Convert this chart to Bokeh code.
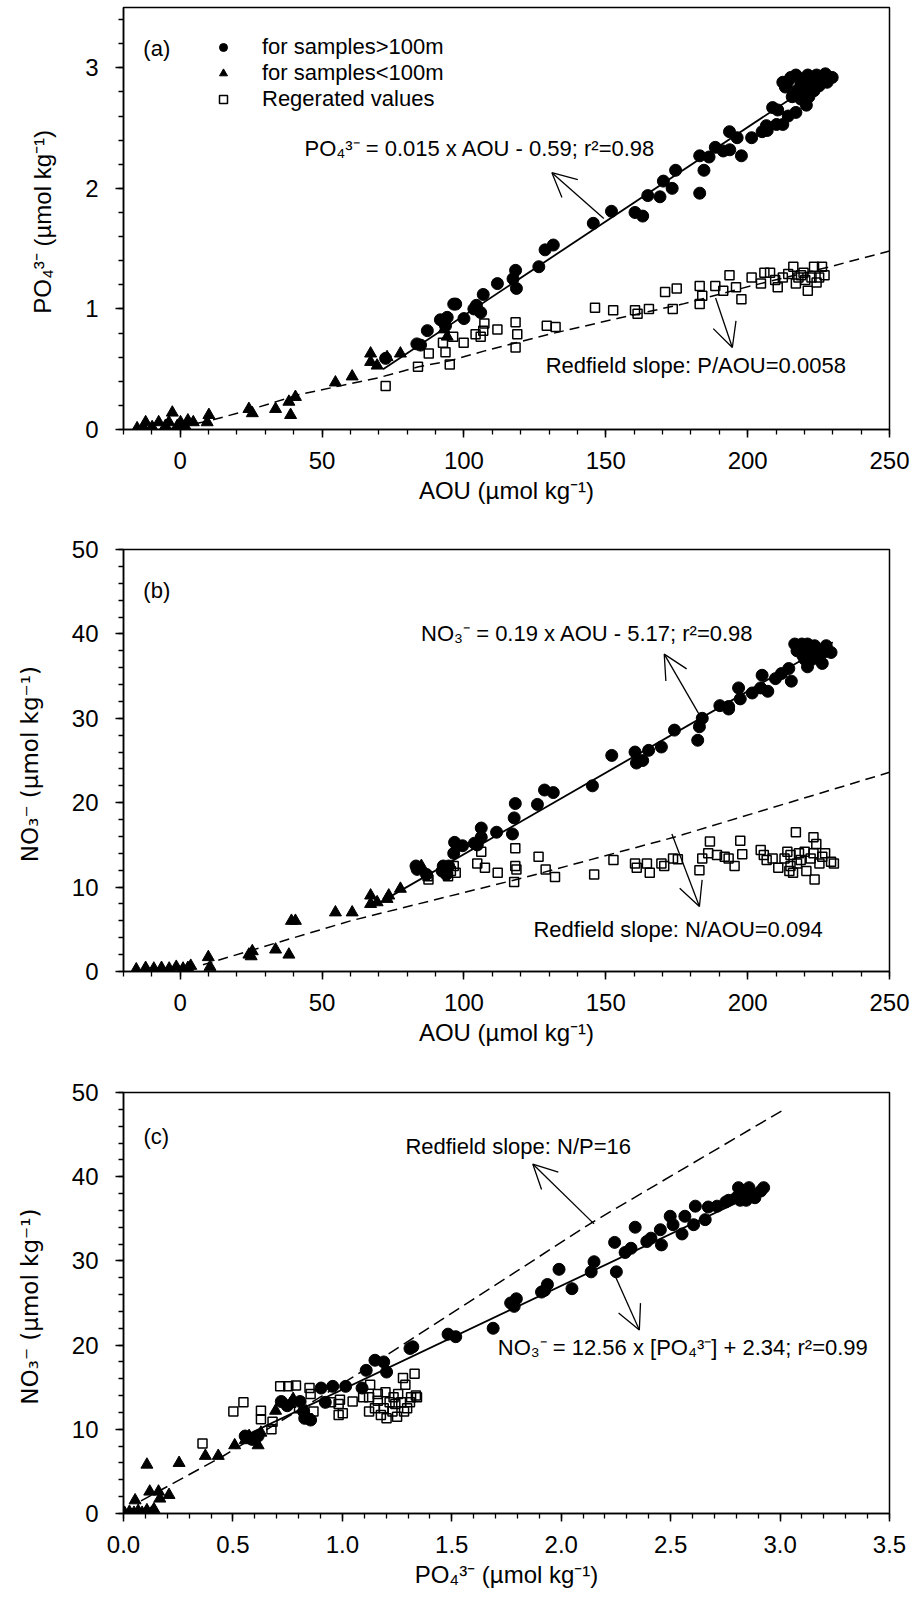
from bokeh.plotting import figure
from bokeh.models import (Range1d, FixedTicker, Arrow, OpenHead, Label, Legend,
                          LegendItem, NumeralTickFormatter)
from bokeh.layouts import column
from bokeh.embed import file_html
from bokeh.resources import INLINE

FONT = "Liberation Sans"

# ---------------- Panel (a): PO4 vs AOU ----------------
a_deep_aou = [72.4, 83.4, 84.7, 87.1, 91.7, 92.6, 93.5, 94.1, 96.4, 97.1, 100.0, 103.5, 104.4,
              105.9, 106.8, 111.8, 117.3, 118.2, 118.5, 126.4, 128.6, 131.5, 145.6, 152.0,
              160.3, 163.0, 164.8, 169.1, 170.3, 173.4, 174.6, 183.1, 183.1, 184.6, 186.4,
              188.6, 191.4, 193.7, 193.6, 196.3, 197.8, 201.4, 205.1, 206.9, 206.6, 210.2,
              208.8, 210.6, 212.4, 214.3, 217.0, 215.7, 220.7,
              212.4, 214.3, 217.0, 218.8, 219.7, 221.2, 222.5, 223.4, 224.3, 225.2, 226.2,
              227.4, 228.9, 229.8, 217.9, 220.7, 218.8, 221.6, 216.1, 221.6, 223.4, 213.3,
              215.2, 226.7, 228.0]
a_deep_po4 = [0.59, 0.71, 0.70, 0.82, 0.91, 0.90, 0.86, 0.93, 1.04, 1.04, 0.92, 1.00, 1.03,
              0.97, 1.12, 1.21, 1.25, 1.32, 1.17, 1.35, 1.49, 1.53, 1.71, 1.81,
              1.80, 1.77, 1.94, 1.93, 2.06, 2.00, 2.15, 1.96, 2.27, 2.15, 2.26,
              2.34, 2.31, 2.32, 2.47, 2.42, 2.27, 2.42, 2.47, 2.48, 2.52, 2.53,
              2.67, 2.65, 2.53, 2.60, 2.63, 2.76, 2.69,
              2.88, 2.89, 2.94, 2.87, 2.91, 2.94, 2.84, 2.89, 2.94, 2.85, 2.89,
              2.95, 2.92, 2.92, 2.82, 2.78, 2.74, 2.76, 2.80, 2.88, 2.81, 2.84,
              2.92, 2.93, 2.88]
a_shallow_aou = [-15.2, -13.0, -12.2, -9.9, -7.6, -5.2, -4.0, -2.8, -1.0, 0.1, 1.0, 1.9, 2.7,
                 4.6, 9.5, 10.1, 24.2, 25.4, 33.6, 38.3, 38.9, 40.6, 54.7, 60.6, 67.1, 67.1,
                 69.4, 72.9, 77.6, 93.0, 94.1]
a_shallow_po4 = [0.01, 0.02, 0.06, 0.02, 0.06, 0.03, 0.06, 0.14, 0.03, 0.06, 0.01, 0.02, 0.075,
                 0.06, 0.06, 0.12, 0.17, 0.135, 0.17, 0.23, 0.12, 0.27, 0.39, 0.44, 0.63, 0.56,
                 0.53, 0.60, 0.63, 0.83, 0.77]
a_regen_aou = [72.4, 83.8, 87.6, 92.6, 93.5, 95.0, 96.2, 99.9, 104.1, 105.9, 106.8, 107.2,
               111.8, 118.2, 118.8, 118.2, 129.2, 132.3, 146.2, 152.6, 160.3, 161.2, 165.2,
               173.6, 170.9, 175.0, 183.1, 184.0, 183.1, 188.6, 191.4, 193.6, 195.9, 197.8,
               201.4, 204.7, 205.9, 207.9, 209.7, 210.6, 212.4, 214.3, 216.1, 217.0, 218.8,
               219.7, 221.2, 222.5, 223.4, 225.2, 226.2, 227.1, 220.3, 217.9, 224.3]
a_regen_po4 = [0.36, 0.52, 0.63, 0.72, 0.64, 0.54, 0.77, 0.72, 0.79, 0.77, 0.82, 0.88,
               0.83, 0.89, 0.79, 0.68, 0.86, 0.85, 1.01, 0.99, 0.99, 0.96, 1.00,
               1.00, 1.14, 1.17, 1.19, 1.11, 1.04, 1.19, 1.15, 1.28, 1.18, 1.08,
               1.26, 1.21, 1.30, 1.30, 1.24, 1.18, 1.26, 1.29, 1.35, 1.21, 1.28,
               1.30, 1.15, 1.26, 1.35, 1.26, 1.35, 1.28, 1.24, 1.26, 1.22]
a_fit_aou = [71.5, 218.8]
a_fit_po4 = [0.50, 2.80]
a_redfield_aou = [-5, 10, 24, 42, 54, 70, 84, 95, 107, 130, 154, 177, 201, 229, 250]
a_redfield_po4 = [0.0, 0.07, 0.16, 0.29, 0.35, 0.43, 0.52, 0.57, 0.65, 0.79, 0.92, 1.04, 1.19, 1.35, 1.48]

# ---------------- Panel (b): NO3 vs AOU ----------------
b_deep_aou = [83.1, 83.5, 86.8, 92.3, 92.7, 93.8, 94.6, 96.4, 96.7, 99.5, 103.7, 104.7, 106.1,
              106.1, 111.5, 117.1, 117.7, 118.1, 125.9, 128.4, 131.5, 145.3, 152.1, 160.3,
              160.8, 163.0, 165.1, 169.6, 174.2, 182.4, 183.0, 184.0, 190.2, 193.3, 196.8,
              197.4, 193.3, 201.6, 204.6, 205.1, 207.1, 209.8, 211.9, 214.5, 215.4, 217.4,
              220.1, 221.1, 222.2, 223.6, 225.3, 227.7, 229.4, 226.3, 221.1, 219.1, 224.2,
              222.8, 216.6, 219.5, 227.3]
b_deep_no3 = [12.5, 12.1, 11.5, 11.9, 12.5, 11.5, 12.5, 14.0, 15.3, 14.9, 15.2, 15.0, 15.9,
              17.0, 16.5, 16.3, 18.2, 19.9, 19.8, 21.5, 21.2, 22.0, 25.6, 26.0,
              24.7, 25.0, 26.2, 26.6, 28.6, 27.4, 29.0, 30.0, 31.5, 31.4, 33.6,
              32.3, 31.1, 33.0, 33.6, 35.1, 33.2, 34.7, 35.3, 35.9, 34.4, 38.0,
              37.0, 36.1, 38.0, 38.6, 37.8, 38.6, 37.8, 36.5, 38.8, 38.8, 37.2,
              37.0, 38.8, 37.4, 37.9]
b_shallow_aou = [-15.5, -12.2, -9.3, -6.6, -3.9, -1.4, 1.0, 2.7, 3.7, 9.9, 10.5, 24.2, 25.4,
                 25.0, 33.6, 38.3, 39.2, 40.6, 54.7, 60.6, 67.1, 67.1, 69.4, 72.9, 73.5, 77.6, 85.0]
b_shallow_no3 = [0.25, 0.42, 0.34, 0.42, 0.34, 0.55, 0.34, 0.42, 0.67, 1.7, 0.55, 2.0, 2.4,
                 1.8, 2.6, 2.0, 6.0, 6.0, 7.0, 7.0, 9.0, 8.0, 8.2, 8.6, 9.0, 9.8, 12.5]
b_regen_aou = [95.4, 96.4, 94.4, 97.1, 87.2, 87.5, 106.1, 104.7, 107.4, 111.9, 118.1, 118.1,
               117.7, 118.5, 126.3, 128.8, 132.1, 145.9, 152.7, 160.3, 160.9, 164.5, 165.5,
               169.6, 170.6, 173.7, 175.4, 183.0, 184.0, 186.1, 186.7, 189.2, 191.9, 193.3,
               195.4, 197.4, 198.1, 204.6, 205.7, 206.7, 208.8, 210.8, 213.0, 215.1, 216.0,
               217.0, 217.4, 218.7, 220.1, 220.7, 222.2, 223.2, 223.2, 224.2, 223.6, 225.3,
               226.3, 227.3, 229.4, 230.4, 218.1, 215.1, 214.0, 214.7]
b_regen_no3 = [11.9, 12.5, 11.3, 11.7, 11.3, 10.9, 14.2, 12.8, 12.3, 11.7, 14.6, 12.5,
               10.6, 12.1, 13.6, 12.1, 11.2, 11.5, 13.2, 12.8, 12.3, 12.8, 11.7,
               12.8, 12.5, 13.4, 13.3, 12.0, 13.4, 14.0, 15.4, 13.8, 13.6, 13.4,
               12.5, 15.5, 13.9, 14.4, 13.8, 13.2, 13.4, 12.3, 13.4, 13.8, 11.7,
               16.5, 12.8, 13.2, 14.2, 11.9, 13.4, 14.0, 15.9, 15.1, 10.9, 12.8,
               13.6, 14.0, 13.0, 12.8, 14.0, 12.5, 14.2, 11.9]
b_fit_aou = [70, 230]
b_fit_no3 = [8.1, 39.0]
b_redfield_aou = [8, 60, 122, 174, 250]
b_redfield_no3 = [0.8, 6.0, 11.2, 15.9, 23.6]

# ---------------- Panel (c): NO3 vs PO4 ----------------
c_deep_po4 = [0.556, 0.588, 0.615, 0.721, 0.748, 0.807, 0.823, 0.828, 0.855, 0.903, 0.922,
              0.956, 1.015, 1.090, 1.109, 1.149, 1.189, 1.202, 1.309, 1.322, 1.483, 1.518,
              1.689, 1.769, 1.785, 1.795, 1.910, 1.937, 1.924, 1.990, 2.049, 2.137, 2.150,
              2.244, 2.252, 2.292, 2.319, 2.338, 2.391, 2.410, 2.453, 2.458, 2.498, 2.511,
              2.552, 2.565, 2.605, 2.613, 2.658, 2.672, 2.712, 2.765, 2.800, 2.810, 2.832,
              2.858, 2.885, 2.912, 2.925, 2.818, 2.872, 2.845, 2.752]
c_deep_no3 = [9.2, 8.8, 9.2, 13.3, 12.8, 13.3, 12.1, 11.3, 11.1, 14.9, 13.2,
              15.1, 15.1, 14.9, 17.0, 18.2, 18.0, 16.8, 19.6, 19.8, 21.3, 21.0,
              22.0, 25.0, 24.6, 25.5, 26.3, 27.2, 26.5, 29.0, 26.7, 28.7, 29.9,
              32.2, 28.7, 31.0, 31.5, 34.0, 32.3, 32.7, 33.7, 31.9, 35.3, 34.3,
              33.2, 35.3, 34.3, 36.5, 34.9, 36.4, 36.5, 37.2, 37.5, 38.7, 38.1,
              38.7, 37.5, 38.3, 38.7, 37.2, 37.9, 37.2, 37.0]
c_shallow_po4 = [0.005, 0.027, 0.048, 0.067, 0.085, 0.107, 0.128, 0.139, 0.053, 0.107, 0.12,
                 0.16, 0.166, 0.208, 0.254, 0.374, 0.433, 0.508, 0.556, 0.574, 0.615, 0.628,
                 0.695, 0.761, 0.775]
c_shallow_no3 = [0.08, 0.2, 0.08, 0.3, 0.08, 0.38, 0.08, 0.5, 1.56, 5.8, 2.6,
                 2.6, 1.77, 2.2, 6.0, 6.84, 6.84, 8.1, 8.7, 9.2, 8.1, 9.6,
                 12.2, 13.0, 13.6]
c_regen_po4 = [0.361, 0.502, 0.548, 0.628, 0.628, 0.676, 0.681, 0.716, 0.753, 0.788, 0.802,
               0.842, 0.850, 0.855, 0.868, 0.948, 0.983, 0.983, 1.002, 0.989, 1.047, 1.095,
               1.122, 1.127, 1.149, 1.162, 1.176, 1.189, 1.197, 1.202, 1.216, 1.229, 1.234,
               1.250, 1.255, 1.269, 1.277, 1.282, 1.288, 1.296, 1.309, 1.314, 1.330, 1.336,
               1.341, 1.162, 1.242, 1.122]
c_regen_no3 = [8.3, 12.1, 13.2, 12.2, 11.2, 10.0, 10.9, 15.1, 15.1, 15.2, 12.5,
               11.3, 14.9, 14.2, 12.1, 13.2, 13.0, 11.7, 11.9, 13.5, 13.3, 13.8,
               13.8, 15.3, 12.5, 13.4, 11.7, 12.5, 14.4, 11.3, 13.2, 12.1, 13.8,
               11.5, 14.2, 13.2, 16.1, 12.1, 15.3, 12.5, 13.2, 13.8, 16.6, 14.0,
               13.8, 14.2, 13.0, 12.1]
c_fit_po4 = [0.56, 2.93]
c_fit_no3 = [9.3, 38.5]
c_redfield_po4 = [0.08, 0.454, 1.042, 2.137, 3.006]
c_redfield_no3 = [1.5, 6.8, 16.1, 34.5, 47.8]

aou_major = [0, 50, 100, 150, 200, 250]
aou_minor = list(range(-20, 251, 10))
no3_major = [0, 10, 20, 30, 40, 50]
no3_minor = list(range(0, 51, 2))
po4_major_a = [0, 1, 2, 3]
po4_minor_a = [round(0.2 * i, 1) for i in range(0, 18)]
po4_major_c = [0.0, 0.5, 1.0, 1.5, 2.0, 2.5, 3.0, 3.5]
po4_minor_c = [round(0.1 * i, 1) for i in range(0, 36)]


def style_axis(ax, major, minor, side):
    ax.ticker = FixedTicker(ticks=major, minor_ticks=minor)
    ax.axis_line_width = 1.5
    ax.axis_line_color = "black"
    ax.major_tick_line_width = 1.5
    ax.minor_tick_line_width = 1.3
    ax.major_tick_line_color = "black"
    ax.minor_tick_line_color = "black"
    ax.major_tick_in = 0
    ax.major_tick_out = 8
    ax.minor_tick_in = 0
    ax.minor_tick_out = 5
    ax.major_label_text_font = FONT
    ax.major_label_text_font_size = "24px"
    ax.major_label_text_color = "black"
    ax.axis_label_text_font = FONT
    ax.axis_label_text_font_size = "24px"
    ax.axis_label_text_font_style = "normal"
    ax.axis_label_text_color = "black"
    if side == "bottom":
        ax.major_label_standoff = 14
        ax.axis_label_standoff = 5
    else:
        ax.major_label_standoff = 17
        ax.axis_label_standoff = 26


def make_fig(xr, yr, top, frame_h, bottom):
    p = figure(width=917, height=top + frame_h + bottom,
               x_range=Range1d(*xr), y_range=Range1d(*yr),
               output_backend="svg", toolbar_location=None,
               min_border_left=123, min_border_right=28,
               min_border_top=top, min_border_bottom=bottom)
    p.xgrid.visible = False
    p.ygrid.visible = False
    p.outline_line_color = "black"
    p.outline_line_width = 1.5
    p.outline_line_alpha = 1.0
    p.background_fill_color = "white"
    p.border_fill_color = "white"
    return p


def add_text(p, x, y, text, size="22px"):
    p.add_layout(Label(x=x, y=y, text=text, text_font=FONT, text_font_size=size,
                       text_baseline="middle", text_align="left", text_color="black"))


def add_arrow(p, xs, ys, xe, ye):
    p.add_layout(Arrow(end=OpenHead(size=24, line_width=1.3, line_color="black"),
                       x_start=xs, y_start=ys, x_end=xe, y_end=ye,
                       line_width=1.3, line_color="black"))


def add_points(p, deep_x, deep_y, sh_x, sh_y, rg_x, rg_y):
    r1 = p.scatter(deep_x, deep_y, marker="circle", size=12, fill_color="black",
                   line_color="black")
    r2 = p.scatter(sh_x, sh_y, marker="triangle", size=12, fill_color="black",
                   line_color="black")
    r3 = p.scatter(rg_x, rg_y, marker="square", size=9, fill_color="white",
                   fill_alpha=0.0, line_color="black", line_width=1.5)
    return r1, r2, r3


def no3_ylabel(ax):
    ax.axis_label = "NO₃⁻  (µmol kg⁻¹)"
    ax.axis_label_text_font = "DejaVu Sans"
    ax.axis_label_text_font_size = "23px"


# ---------- (a) ----------
pa = make_fig((-20, 250), (0, 3.5), 7, 422, 91)
pa.line(a_redfield_aou, a_redfield_po4, line_color="black", line_width=1.5, line_dash="10 6")
ra1, ra2, ra3 = add_points(pa, a_deep_aou, a_deep_po4, a_shallow_aou, a_shallow_po4,
                           a_regen_aou, a_regen_po4)
pa.line(a_fit_aou, a_fit_po4, line_color="black", line_width=1.8)
style_axis(pa.xaxis[0], aou_major, aou_minor, "bottom")
style_axis(pa.yaxis[0], po4_major_a, po4_minor_a, "left")
pa.xaxis[0].axis_label = "AOU (µmol kg⁻¹)"
pa.yaxis[0].axis_label = "PO₄³⁻  (µmol kg⁻¹)"
add_text(pa, -13, 3.16, "(a)")
add_text(pa, 43.8, 2.33, "PO₄³⁻ = 0.015 x AOU - 0.59; r²=0.98")
add_text(pa, 128.8, 0.53, "Redfield slope: P/AOU=0.0058")
add_arrow(pa, 149.3, 1.75, 131.0, 2.13)
add_arrow(pa, 188.7, 1.09, 194.6, 0.68)
legend = Legend(items=[LegendItem(label="for samples>100m", renderers=[ra1]),
                       LegendItem(label="for samples<100m", renderers=[ra2]),
                       LegendItem(label="Regerated values", renderers=[ra3])],
                location=(90, 317), padding=0, margin=0, spacing=0,
                label_height=26, glyph_height=20, glyph_width=20, label_standoff=29,
                border_line_alpha=0, background_fill_alpha=0,
                label_text_font=FONT, label_text_font_size="22px",
                label_text_color="black")
pa.add_layout(legend)

# ---------- (b) ----------
pb = make_fig((-20, 250), (0, 50), 29, 422, 91)
pb.line(b_redfield_aou, b_redfield_no3, line_color="black", line_width=1.5, line_dash="10 6")
add_points(pb, b_deep_aou, b_deep_no3, b_shallow_aou, b_shallow_no3, b_regen_aou, b_regen_no3)
pb.line(b_fit_aou, b_fit_no3, line_color="black", line_width=1.8)
style_axis(pb.xaxis[0], aou_major, aou_minor, "bottom")
style_axis(pb.yaxis[0], no3_major, no3_minor, "left")
pb.xaxis[0].axis_label = "AOU (µmol kg⁻¹)"
no3_ylabel(pb.yaxis[0])
add_text(pb, -13, 45.1, "(b)")
add_text(pb, 84.9, 40.1, "NO₃⁻ = 0.19 x AOU - 5.17; r²=0.98")
add_text(pb, 124.5, 5.0, "Redfield slope: N/AOU=0.094")
add_arrow(pb, 183.0, 30.4, 170.6, 37.6)
add_arrow(pb, 173.3, 16.3, 183.0, 7.7)

# ---------- (c) ----------
pc = make_fig((0, 3.5), (0, 50), 30, 421, 86)
pc.line(c_redfield_po4, c_redfield_no3, line_color="black", line_width=1.5, line_dash="12 6")
add_points(pc, c_deep_po4, c_deep_no3, c_shallow_po4, c_shallow_no3, c_regen_po4, c_regen_no3)
pc.line(c_fit_po4, c_fit_no3, line_color="black", line_width=1.8)
style_axis(pc.xaxis[0], po4_major_c, po4_minor_c, "bottom")
style_axis(pc.yaxis[0], no3_major, no3_minor, "left")
pc.xaxis[0].formatter = NumeralTickFormatter(format="0.0")
pc.xaxis[0].axis_label = "PO₄³⁻ (µmol kg⁻¹)"
no3_ylabel(pc.yaxis[0])
add_text(pc, 0.091, 44.8, "(c)")
add_text(pc, 1.288, 43.6, "Redfield slope: N/P=16")
add_text(pc, 1.710, 19.7, "NO₃⁻ = 12.56 x [PO₄³⁻] + 2.34; r²=0.99")
add_arrow(pc, 2.15, 34.4, 1.87, 41.5)
add_arrow(pc, 2.233, 29.0, 2.357, 21.8)

layout = column(pa, pb, pc, spacing=0)
open("out.html", "w").write(file_html(layout, INLINE))
